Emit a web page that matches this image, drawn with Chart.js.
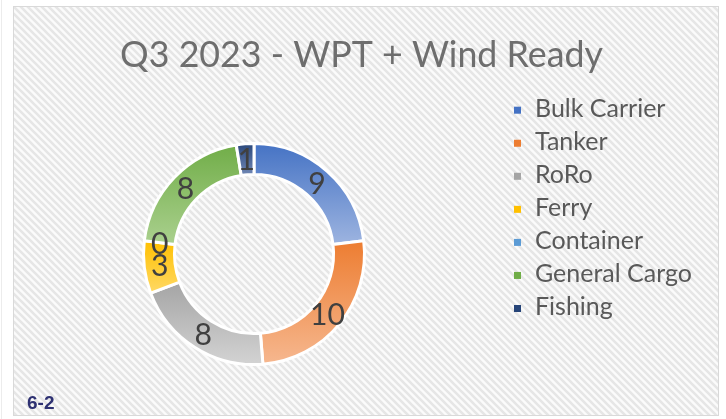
<!DOCTYPE html>
<html><head><meta charset="utf-8">
<script src="https://cdn.jsdelivr.net/npm/chart.js@4.4.1/dist/chart.umd.min.js"></script>
<style>html,body{margin:0;padding:0;background:#fff;overflow:hidden}#wrap{width:726px;height:419px;position:relative}</style>
</head><body><div id="wrap"><canvas id="c" width="726" height="419"></canvas></div>
<script>
const chartTitle = 'Q3 2023 - WPT + Wind Ready';
const categories = ['Bulk Carrier', 'Tanker', 'RoRo', 'Ferry', 'Container', 'General Cargo', 'Fishing'];
const vesselCounts = [9, 10, 8, 3, 0, 8, 1];
const baseColors = ['#4472C4', '#ED7D31', '#A5A5A5', '#FFC000', '#5B9BD5', '#70AD47', '#264478'];
const lightColors = ['#9DB4E0', '#F6B890', '#D4D4D4', '#FFD966', '#A7C8EA', '#AAD08E', '#6F86B4'];
const figureLabel = '6-2';

const FONT = 'Lato, "Noto Sans", sans-serif';

function fitSize(ctx, text, weight, targetW) {
  ctx.font = weight + ' 100px ' + FONT;
  return 100 * targetW / ctx.measureText(text).width;
}

// striped background pattern
function makePattern(ctx) {
  const p = document.createElement('canvas');
  p.width = 7; p.height = 7;
  const g = p.getContext('2d');
  g.fillStyle = '#fbfbfb';
  g.fillRect(0, 0, 7, 7);
  g.strokeStyle = '#e6e6e6';
  g.lineWidth = 2.6;
  g.beginPath();
  g.moveTo(-2, -2); g.lineTo(9, 9);
  g.moveTo(-9, -2); g.lineTo(2, 9);
  g.moveTo(5, -2); g.lineTo(16, 9);
  g.stroke();
  return ctx.createPattern(p, 'repeat');
}

function segmentFill(context) {
  const chart = context.chart;
  const i = context.dataIndex;
  const area = chart.chartArea;
  if (!area || i === undefined) return baseColors[i] || '#999';
  const cx = (area.left + area.right) / 2, cy = (area.top + area.bottom) / 2;
  const R = Math.min(area.right - area.left, area.bottom - area.top) / 2;
  const total = vesselCounts.reduce((a, b) => a + b, 0);
  let before = 0;
  for (let k = 0; k < i; k++) before += vesselCounts[k];
  const a0 = -Math.PI / 2 + 2 * Math.PI * before / total;
  const a1 = a0 + 2 * Math.PI * vesselCounts[i] / total;
  let minY = Infinity, maxY = -Infinity;
  for (let s = 0; s <= 40; s++) {
    const a = a0 + (a1 - a0) * s / 40;
    for (const r of [R, R * 0.72]) {
      const y = cy + r * Math.sin(a);
      minY = Math.min(minY, y); maxY = Math.max(maxY, y);
    }
  }
  if (maxY - minY < 1) maxY = minY + 1;
  const grad = chart.ctx.createLinearGradient(0, minY, 0, maxY);
  grad.addColorStop(0, baseColors[i]);
  grad.addColorStop(1, lightColors[i]);
  return grad;
}

const decorPlugin = {
  id: 'decor',
  beforeDraw(chart) {
    const ctx = chart.ctx;
    ctx.save();
    ctx.fillStyle = '#ffffff';
    ctx.fillRect(0, 0, chart.width, chart.height);
    ctx.fillStyle = makePattern(ctx);
    ctx.fillRect(13, 6, 706, 410);
    ctx.strokeStyle = '#d9d9d9';
    ctx.lineWidth = 1;
    ctx.strokeRect(13.5, 6.5, 705, 409);
    ctx.strokeStyle = '#ececec';
    ctx.beginPath(); ctx.moveTo(1.5, 0); ctx.lineTo(1.5, 419); ctx.stroke();
    ctx.restore();
  },
  afterDatasetsDraw(chart) {
    const ctx = chart.ctx;
    const meta = chart.getDatasetMeta(0);
    ctx.save();
    const size = fitSize(ctx, '10', 'normal', 35);
    ctx.font = 'normal ' + size + 'px ' + FONT;
    ctx.fillStyle = '#404040';
    ctx.textAlign = 'center';
    ctx.textBaseline = 'alphabetic';
    meta.data.forEach((arc, i) => {
      const p = arc.getProps(['x', 'y', 'startAngle', 'endAngle', 'innerRadius', 'outerRadius'], true);
      const mid = (p.startAngle + p.endAngle) / 2;
      const r = (p.innerRadius + p.outerRadius) / 2;
      const x = p.x + r * Math.cos(mid);
      const y = p.y + r * Math.sin(mid);
      const txt = String(vesselCounts[i]);
      const m = ctx.measureText(txt);
      ctx.fillText(txt, x, y + (m.actualBoundingBoxAscent - m.actualBoundingBoxDescent) / 2);
    });
    ctx.restore();
  },
  afterDraw(chart) {
    const ctx = chart.ctx;
    ctx.save();
    // title
    const ts = fitSize(ctx, chartTitle, 'normal', 483);
    ctx.font = 'normal ' + ts + 'px ' + FONT;
    ctx.fillStyle = '#6e6e6e';
    ctx.textAlign = 'center';
    ctx.textBaseline = 'alphabetic';
    ctx.fillText(chartTitle, 361.5, 67);
    // legend
    const ls = fitSize(ctx, 'General Cargo', 'normal', 157);
    ctx.font = 'normal ' + ls + 'px ' + FONT;
    ctx.textAlign = 'left';
    categories.forEach((name, i) => {
      const base = 116.7 + i * 33.05;
      ctx.fillStyle = baseColors[i];
      ctx.fillRect(514, base - 10, 7, 7);
      ctx.fillStyle = '#595959';
      ctx.fillText(name, 535, base);
    });
    // figure label
    ctx.font = 'bold 19px "Liberation Sans", Arial, sans-serif';
    ctx.fillStyle = '#2e3172';
    ctx.fillText(figureLabel, 27, 409);
    ctx.restore();
  }
};

new Chart(document.getElementById('c'), {
  type: 'doughnut',
  data: {
    labels: categories,
    datasets: [{
      data: vesselCounts,
      backgroundColor: segmentFill,
      borderColor: '#ffffff',
      borderWidth: 3,
      hoverOffset: 0
    }]
  },
  options: {
    responsive: false,
    devicePixelRatio: 1,
    animation: false,
    cutout: '72%',
    layout: { padding: { left: 142, top: 142, right: 360, bottom: 53 } },
    plugins: {
      legend: { display: false },
      title: { display: false },
      tooltip: { enabled: false }
    }
  },
  plugins: [decorPlugin]
});
</script>
</body></html>
